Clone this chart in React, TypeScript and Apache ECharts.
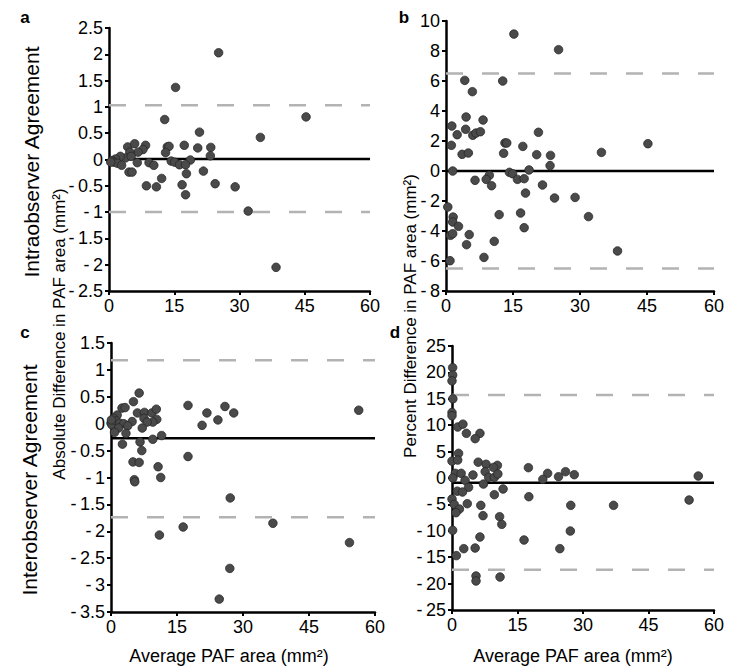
import React, { useEffect, useRef } from 'react';
import * as echarts from 'echarts';

const FONT = '"Liberation Sans", Arial, Helvetica, sans-serif';

const xTicks = [0, 15, 30, 45, 60];
const xAxisTitle = 'Average PAF area (mm²)';

// Panel a: Intraobserver absolute difference [average area, difference]
const intraAbsolute: [number, number][] = [
  [25.2, 2.03], [15.3, 1.37], [45.3, 0.81], [12.8, 0.76], [20.8, 0.52], [34.8, 0.42],
  [4.3, 0.24], [5.9, 0.3], [8.4, 0.27], [7.8, 0.19], [6.7, 0.14], [4.8, 0.14],
  [13.4, 0.24], [13.8, 0.25], [13.0, 0.13], [17.3, 0.27], [20.4, 0.22], [23.4, 0.23],
  [23.3, 0.07], [18.7, -0.01], [3.8, 0.03], [2.6, 0.06], [5.1, 0.06], [1.5, 0.01],
  [0.7, -0.02], [1.1, -0.05], [1.9, -0.07], [2.9, -0.11], [6.5, -0.06], [9.2, -0.06],
  [10.3, -0.11], [14.3, -0.03], [15.1, -0.05], [16.2, -0.1], [17.6, -0.1], [4.6, -0.24],
  [5.3, -0.24], [17.8, -0.27], [21.7, -0.22], [12.1, -0.36], [8.6, -0.5], [10.9, -0.52],
  [16.8, -0.48], [24.4, -0.46], [29.0, -0.52], [17.6, -0.67], [32.0, -0.98], [38.4, -2.05],
  [0.4, -0.05],
];
const intraAbsLines = [1.03, 0.01, -1.0]; // upper limit, mean, lower limit

// Panel b: Intraobserver percent difference
const intraPercent: [number, number][] = [
  [15.2, 9.13], [25.2, 8.09], [4.2, 6.04], [12.7, 6.0], [5.9, 5.29], [4.5, 3.6],
  [8.3, 3.4], [1.3, 3.0], [4.4, 2.78], [2.5, 2.42], [6.0, 2.38], [6.7, 2.53],
  [7.7, 2.62], [20.7, 2.58], [1.2, 1.71], [13.2, 1.87], [13.6, 1.87], [17.2, 1.64],
  [45.2, 1.82], [3.6, 1.11], [5.0, 1.2], [12.9, 1.18], [20.3, 1.09], [23.4, 1.04],
  [34.8, 1.24], [23.3, 0.36], [1.5, 0.0], [18.6, 0.07], [14.2, -0.09], [14.9, -0.18],
  [9.7, -0.29], [9.0, -0.56], [6.5, -0.62], [16.0, -0.56], [17.5, -0.51], [10.2, -0.98],
  [21.6, -0.93], [17.8, -1.47], [24.3, -1.8], [28.9, -1.76], [0.4, -2.4], [11.9, -2.91],
  [16.7, -2.8], [31.9, -3.04], [1.6, -3.07], [1.5, -3.4], [2.8, -3.69], [17.5, -3.78],
  [1.0, -4.29], [1.5, -4.18], [5.2, -4.24], [10.8, -4.69], [4.6, -4.91], [38.4, -5.33],
  [8.5, -5.76], [0.9, -5.98],
];
const intraPctLines = [6.5, 0.0, -6.5];

// Panel c: Interobserver absolute difference
const interAbsolute: [number, number][] = [
  [56.3, 0.25], [6.4, 0.57], [5.1, 0.41], [17.5, 0.34], [25.9, 0.32], [21.8, 0.2],
  [27.9, 0.2], [24.3, 0.07], [20.7, -0.03], [6.0, 0.2], [7.6, 0.21], [9.3, 0.2],
  [10.3, 0.27], [7.5, 0.1], [10.4, 0.08], [9.5, 0.03], [8.2, 0.03], [7.1, -0.08],
  [4.8, 0.04], [2.5, 0.29], [3.2, 0.3], [1.4, 0.16], [0.6, 0.1], [0.0, 0.01],
  [0.2, -0.02], [1.2, 0.05], [2.0, 0.01], [2.9, 0.0], [3.8, -0.04], [1.7, -0.08],
  [0.8, -0.16], [3.4, -0.18], [2.6, -0.38], [9.5, -0.29], [11.5, -0.22], [6.6, -0.34],
  [7.0, -0.5], [17.5, -0.61], [5.0, -0.71], [6.4, -0.72], [10.7, -0.8], [11.3, -1.0],
  [5.3, -1.04], [5.4, -1.08], [27.1, -1.38], [36.8, -1.85], [16.4, -1.92], [11.0, -2.07],
  [54.2, -2.21], [27.0, -2.69], [24.6, -3.26], [0.1, 0.07],
];
const interAbsLines = [1.18, -0.27, -1.74];

// Panel d: Interobserver percent difference
const interPercent: [number, number][] = [
  [0.15, 20.9], [0.15, 19.5], [0.0, 18.4], [0.2, 15.0], [0.0, 12.4], [0.0, 11.8],
  [1.3, 9.66], [2.5, 10.2], [3.3, 8.46], [6.4, 8.46], [5.3, 7.45], [1.5, 4.67],
  [0.0, 3.2], [1.3, 3.4], [6.0, 3.0], [7.8, 2.6], [10.4, 2.4], [9.5, 2.0],
  [17.5, 1.96], [26.0, 1.2], [21.9, 0.88], [28.0, 0.63], [24.4, 0.25], [20.8, -0.25],
  [56.4, 0.38], [0.76, 0.88], [2.1, 0.88], [4.8, 0.57], [0.2, 0.0], [3.0, -0.44],
  [7.6, 1.2], [8.4, 0.13], [9.7, 0.13], [10.5, 0.76], [7.2, -1.14], [3.8, -1.77],
  [1.2, -2.5], [2.4, -2.65], [9.7, -3.16], [11.7, -2.08], [17.6, -3.54], [54.3, -4.17],
  [0.0, -3.98], [3.5, -4.86], [0.5, -4.99], [6.6, -5.18], [27.2, -5.18], [37.0, -5.18],
  [1.7, -5.87], [0.9, -6.57], [7.1, -7.13], [10.9, -7.32], [11.4, -8.78], [0.15, -9.9],
  [27.1, -10.04], [6.4, -11.17], [16.5, -11.74], [2.7, -13.38], [5.3, -13.26], [24.7, -13.38],
  [1.0, -14.7], [11.0, -18.75], [5.5, -18.56], [5.5, -19.5],
];
const interPctLines = [15.7, -0.9, -17.4];

const yRanges = [
  { min: -2.5, max: 2.5, interval: 0.5 },
  { min: -8, max: 10, interval: 2 },
  { min: -3.5, max: 1.5, interval: 0.5 },
  { min: -25, max: 25, interval: 5 },
];

const panelData = [intraAbsolute, intraPercent, interAbsolute, interPercent];
const panelLines = [intraAbsLines, intraPctLines, interAbsLines, interPctLines];

const grids = [
  { left: 109, top: 28, width: 261, height: 263 },
  { left: 446, top: 21, width: 268, height: 270 },
  { left: 111, top: 343, width: 264, height: 269 },
  { left: 452, top: 346, width: 262, height: 264 },
];

const fmtY = (v: number) => (v < 0 ? '-\u2009' + String(Math.abs(v)) : String(v));

export default function App() {
  const ref = useRef<HTMLDivElement>(null);
  useEffect(() => {
    if (!ref.current) return;
    const chart = echarts.init(ref.current, null, { renderer: 'svg' });
    const axisLine = { show: true, onZero: false, lineStyle: { color: '#000', width: 2.5 } };
    const axisTick = { show: true, inside: false, length: 4, lineStyle: { color: '#000', width: 2 } };
    const axisLabel = { color: '#000', fontSize: 18, fontFamily: FONT, margin: 6 };

    const xAxis = grids.map((_, i) => ({
      type: 'value',
      gridIndex: i,
      min: xTicks[0],
      max: xTicks[xTicks.length - 1],
      interval: xTicks[1] - xTicks[0],
      axisLine,
      axisTick,
      axisLabel,
      splitLine: { show: false },
    }));
    const yAxis = grids.map((_, i) => ({
      type: 'value',
      gridIndex: i,
      min: yRanges[i].min,
      max: yRanges[i].max,
      interval: yRanges[i].interval,
      axisLine,
      axisTick,
      axisLabel: { ...axisLabel, formatter: fmtY },
      splitLine: { show: false },
    }));

    const series: any[] = [];
    panelData.forEach((data, i) => {
      const [upper, mean, lower] = panelLines[i];
      const x0 = xTicks[0];
      const x1 = xTicks[xTicks.length - 1];
      [upper, lower].forEach((v) => {
        series.push({
          type: 'line', xAxisIndex: i, yAxisIndex: i, silent: true, symbol: 'none', z: 1,
          data: [[x0, v], [x1, v]],
          lineStyle: { color: '#b3b3b3', width: 2.5, type: [17, 19] },
        });
      });
      series.push({
        type: 'line', xAxisIndex: i, yAxisIndex: i, silent: true, symbol: 'none', z: 2,
        data: [[x0, mean], [x1, mean]],
        lineStyle: { color: '#000', width: 2.5 },
      });
      series.push({
        type: 'scatter', xAxisIndex: i, yAxisIndex: i, z: 3,
        symbolSize: 8.5,
        data,
        itemStyle: { color: '#4a4a4a', borderColor: '#262626', borderWidth: 0.8, opacity: 1 },
      });
    });

    const txt = (text: string, x: number, y: number, size: number, opts: any = {}) => ({
      type: 'text',
      x,
      y,
      rotation: opts.rotate ? Math.PI / 2 : 0,
      style: {
        text,
        fill: '#000',
        font: `${opts.bold ? 'bold ' : ''}${size}px ${FONT}`,
        align: 'center',
        verticalAlign: 'middle',
      },
    });

    chart.setOption({
      animation: false,
      backgroundColor: '#fff',
      grid: grids.map((g) => ({ ...g, containLabel: false })),
      xAxis,
      yAxis,
      series,
      graphic: [
        txt('a', 25, 17, 17, { bold: true }),
        txt('b', 404, 17, 17, { bold: true }),
        txt('c', 25, 332, 17, { bold: true }),
        txt('d', 395, 332, 17, { bold: true }),
        txt('Intraobserver Agreement', 31, 162, 21, { rotate: true }),
        txt('Interobserver Agreement', 29, 480, 21, { rotate: true }),
        txt('Absolute Difference in PAF area (mm²)', 59, 334, 17, { rotate: true }),
        txt('Percent Difference in PAF area (mm²)', 410, 316, 17, { rotate: true }),
        txt(xAxisTitle, 229, 656, 18),
        txt(xAxisTitle, 573, 656, 18),
      ],
    });
    return () => chart.dispose();
  }, []);
  return (
    <div
      ref={ref}
      style={{ position: 'absolute', left: 0, top: 0, width: 734, height: 666, background: '#fff' }}
    />
  );
}
